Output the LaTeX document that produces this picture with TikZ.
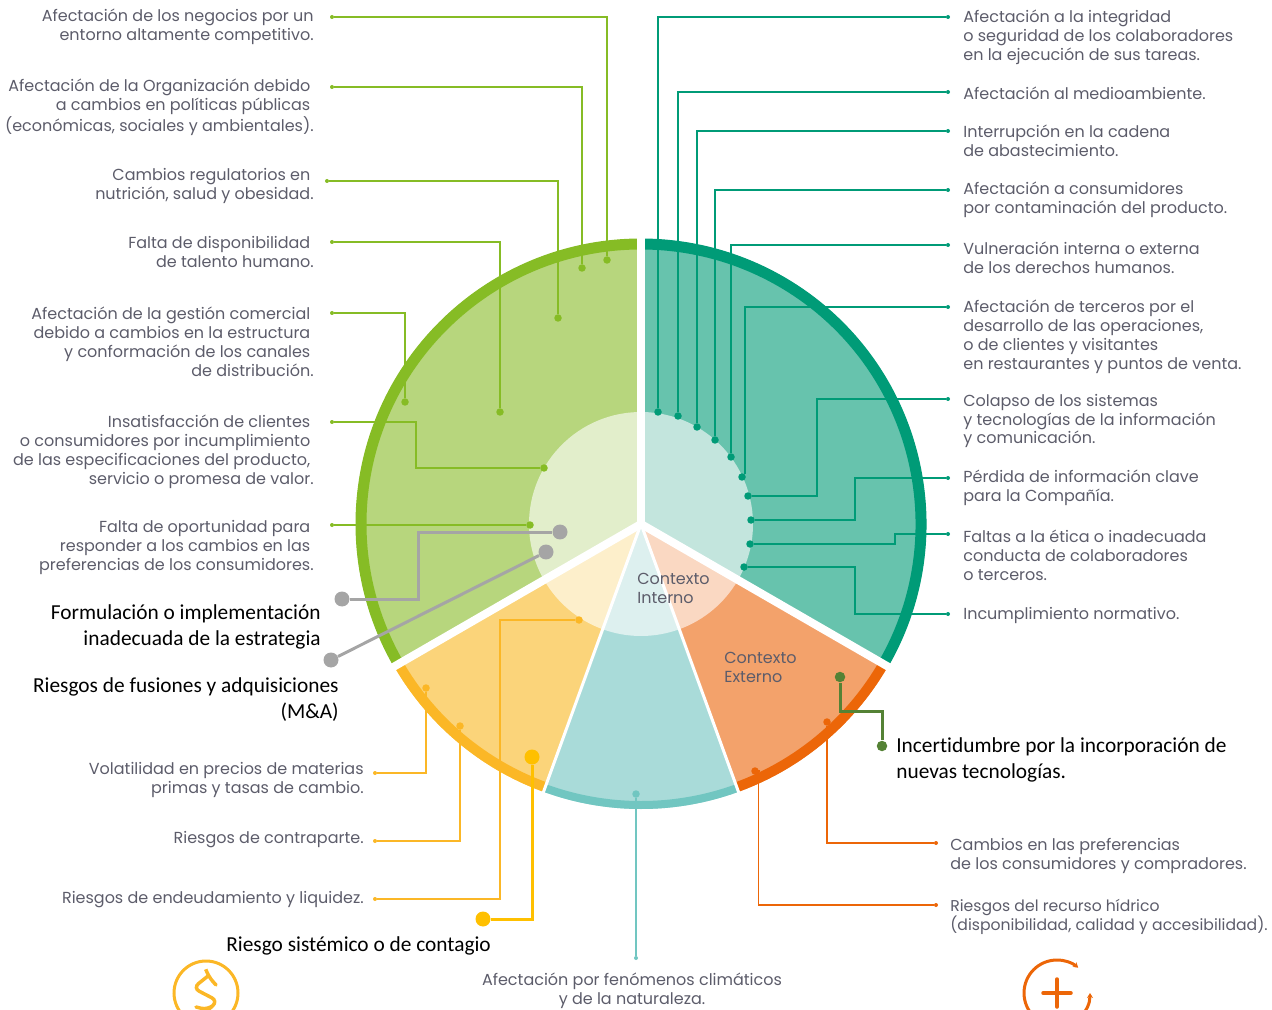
\documentclass[tikz,border=0pt]{standalone}
\usepackage{fontspec}
\usetikzlibrary{arrows.meta}
\newfontfamily\riskfont{Poppins}
\newfontfamily\calloutfont[Ligatures=CommonOff]{Carlito}
\newcommand{\hng}{\phantom{.}}
\definecolor{greenring}{HTML}{86BC25}
\definecolor{greenfill}{HTML}{B7D67D}
\definecolor{greenlight}{HTML}{E2EECB}
\definecolor{tealring}{HTML}{009B77}
\definecolor{tealfill}{HTML}{67C3AD}
\definecolor{teallight}{HTML}{C3E5DD}
\definecolor{yellowring}{HTML}{FBB726}
\definecolor{yellowfill}{HTML}{FBD47A}
\definecolor{yellowlight}{HTML}{FDEFCB}
\definecolor{aquaring}{HTML}{71C6C1}
\definecolor{aquafill}{HTML}{A9DBD9}
\definecolor{aqualight}{HTML}{DDF0EF}
\definecolor{orangering}{HTML}{EC6608}
\definecolor{orangefill}{HTML}{F3A26B}
\definecolor{orangelight}{HTML}{FAD8C2}
\definecolor{calloutgray}{HTML}{A5A5A5}
\definecolor{calloutgold}{HTML}{FFC000}
\definecolor{calloutgreen}{HTML}{548235}
\definecolor{textgray}{HTML}{5C5C6A}

\begin{document}
\begin{tikzpicture}[
    x=0.02cm, y=-0.02cm,
    risktxt/.style={font=\riskfont\fontsize{9.1}{10.8}\selectfont, text=textgray, inner sep=0pt, yshift=-0.03cm},
    txtleft/.style={risktxt, anchor=east, align=right},
    txtright/.style={risktxt, anchor=west, align=left},
    callout/.style={font=\calloutfont\fontsize{12.15}{14.8}\selectfont, text=black, inner sep=0pt, yshift=-0.03cm},
    tipdot/.style={circle, fill=#1, inner sep=0pt, minimum size=0.08cm},
    enddot/.style={circle, fill=#1, inner sep=0pt, minimum size=0.15cm},
    bigdot/.style={circle, fill=#1, inner sep=0pt, minimum size=0.3cm},
    leader/.style={draw=#1, line width=0.028cm},
    heavy/.style={draw=#1, line width=0.06cm},
]
\useasboundingbox (0,0) rectangle (1272,1010);
\clip (0,0) rectangle (1272,1010);

% === Sectors ===
\begin{scope}[shift={(641,524)}, y=0.02cm]
\foreach \a/\b/\base/\w/\r in {90/210/green/0.22cm/280, 210/250/yellow/0.2cm/280, 250/290/aqua/0.16cm/281, 290/330/orange/0.2cm/280, -30/90/teal/0.22cm/280} {
    \fill[\base fill] (0,0) -- (\a:285) arc (\a:\b:285) -- cycle;
    \fill[\base light] (0,0) -- (\a:112) arc (\a:\b:112) -- cycle;
    \draw[\base ring, line width=\w] (\a:\r) arc (\a:\b:\r);
}
% separators
\foreach \a in {90,210,330} \draw[white, line width=0.16cm] (0,0) -- (\a:295);
\foreach \a in {250,290} \draw[white, line width=0.06cm] (0,0) -- (\a:295);
\end{scope}

% === Green leaders ===
\foreach \name/\x/\y in {negA/332/17, polA/332/87, regA/327/181, talA/332/242, comA/332/313, insA/332/422, opoA/332/525}
    \node[tipdot=greenring] (\name) at (\x,\y) {};
\foreach \name/\x/\y in {negB/607/260, polB/582/268, regB/558/318, talB/500/412, comB/405/402, insB/544/468, opoB/530/525}
    \node[enddot=greenring] (\name) at (\x,\y) {};
\draw[leader=greenring] (negA) -| (negB);
\draw[leader=greenring] (polA) -| (polB);
\draw[leader=greenring] (regA) -| (regB);
\draw[leader=greenring] (talA) -| (talB);
\draw[leader=greenring] (comA) -| (comB);
\draw[leader=greenring] (insA) -- ++(84,0) |- (insB);
\draw[leader=greenring] (opoA) -- (opoB);

% === Teal leaders ===
\foreach \name/\x/\y in {intA/948/17, ambA/948/92, cadA/948/131, conA/948/190, derA/948/245, terA/948/307, sisA/948/399, infA/948/478, etiA/948/534, norA/948/614}
    \node[tipdot=tealring] (\name) at (\x,\y) {};
\foreach \name/\x/\y in {intB/658/412, ambB/678/416, cadB/697/427, conB/715/440, derB/731/457, terB/742/477, sisB/748/496, infB/751/520, etiB/750/544, norB/744/567}
    \node[enddot=tealring] (\name) at (\x,\y) {};
\draw[leader=tealring] (intB) |- (intA);
\draw[leader=tealring] (ambB) |- (ambA);
\draw[leader=tealring] (cadB) |- (cadA);
\draw[leader=tealring] (conB) |- (conA);
\draw[leader=tealring] (derB) |- (derA);
\draw[leader=tealring] (terB.north east) |- (terA);
\draw[leader=tealring] (sisB) -- ++(69,0) |- (sisA);
\draw[leader=tealring] (infB) -- ++(104,0) |- (infA);
\draw[leader=tealring] (etiB) -- ++(145,0) |- (etiA);
\draw[leader=tealring] (norB) -- ++(111,0) |- (norA);

% === Yellow leaders ===
\foreach \name/\x/\y in {preA/375/773, conpA/375/841, endA/375/899}
    \node[tipdot=yellowring] (\name) at (\x,\y) {};
\foreach \name/\x/\y in {preB/426/688, conpB/460/726, endB/579/620}
    \node[enddot=yellowring] (\name) at (\x,\y) {};
\draw[leader=yellowring] (preA) -| (preB);
\draw[leader=yellowring] (conpA) -| (conpB);
\draw[leader=yellowring] (endA) -- ++(125,0) |- (endB);

% === Aqua and orange leaders ===
\node[tipdot=aquaring] (cliA) at (636,958) {};
\node[enddot=aquaring] (cliB) at (636,794) {};
\draw[leader=aquaring] (cliB) -- (cliA);
\node[tipdot=orangering] (cbiA) at (936,843) {};
\node[enddot=orangering] (cbiB) at (827,722) {};
\draw[leader=orangering] (cbiB) |- (cbiA);
\node[tipdot=orangering] (hidA) at (936,905) {};
\node[enddot=orangering] (hidB) at (755,771) {};
\draw[leader=orangering] (hidB) -- ++(3.5,0) |- (hidA);

% === Added callouts ===
\node[bigdot=calloutgray] (estA) at (342,599) {};
\node[bigdot=calloutgray] (estB) at (560,532) {};
\draw[heavy=calloutgray] (estA) -- ++(76,0) |- (estB);
\node[bigdot=calloutgray] (fusA) at (331,660) {};
\node[bigdot=calloutgray] (fusB) at (546,552) {};
\draw[heavy=calloutgray] (fusA) -- (fusB);
\node[bigdot=calloutgold] (sisgA) at (483,919) {};
\node[bigdot=calloutgold] (sisgB) at (532,757) {};
\draw[heavy=calloutgold] (sisgA) -| (sisgB);
\node[enddot=calloutgreen, minimum size=0.21cm] (tecA) at (882,746) {};
\node[enddot=calloutgreen, minimum size=0.21cm] (tecB) at (840,677) {};
\draw[heavy=calloutgreen] (tecB) -- ++(0,34) -| (tecA);

% === Left labels ===
\node[txtleft] (negT) at (314,25.5) {Afectación de los negocios por un\\entorno altamente competitivo.};
\node[txtleft] (polT) at (314,105.5) {Afectación de la Organización debido\hng\\a cambios en políticas públicas\hng\\(económicas, sociales y ambientales).};
\node[txtleft] (regT) at (314,184.5) {Cambios regulatorios en\hng\\nutrición, salud y obesidad.};
\node[txtleft] (talT) at (314,250.5) {Falta de disponibilidad\hng\\de talento humano.};
\node[txtleft] (comT) at (314,340) {Afectación de la gestión comercial\hng\\debido a cambios en la estructura\hng\\y conformación de los canales\hng\\de distribución.};
\node[txtleft] (insT) at (314,450) {Insatisfacción de clientes\hng\\o consumidores por incumplimiento\hng\\de las especificaciones del producto,\hng\\servicio o promesa de valor.};
\node[txtleft] (opoT) at (314,546) {Falta de oportunidad para\hng\\responder a los cambios en las\hng\\preferencias de los consumidores.};
\node[txtleft] (preT) at (364,778.5) {Volatilidad en precios de materias\\primas y tasas de cambio.};
\node[txtleft] (conpT) at (364,838) {Riesgos de contraparte.};
\node[txtleft] (endT) at (364,898) {Riesgos de endeudamiento y liquidez.};

% === Right labels ===
\node[txtright] (intT) at (963,36) {Afectación a la integridad\\o seguridad de los colaboradores\\en la ejecución de sus tareas.};
\node[txtright] (ambT) at (963,92) {Afectación al medioambiente.};
\node[txtright] (cadT) at (963,139.5) {Interrupción en la cadena\\de abastecimiento.};
\node[txtright] (conT) at (963,198.5) {Afectación a consumidores\\por contaminación del producto.};
\node[txtright] (derT) at (963,256) {Vulneración interna o externa\\de los derechos humanos.};
\node[txtright] (terT) at (963,335.5) {Afectación de terceros por el\\desarrollo de las operaciones,\\o de clientes y visitantes\\en restaurantes y puntos de venta.};
\node[txtright] (sisT) at (963,419.5) {Colapso de los sistemas\\y tecnologías de la información\\y comunicación.};
\node[txtright] (infT) at (963,486.5) {Pérdida de información clave\\para la Compañía.};
\node[txtright] (etiT) at (963,553.5) {Faltas a la ética o inadecuada\\conducta de colaboradores\\o terceros.};
\node[txtright] (norT) at (963,614) {Incumplimiento normativo.};
\node[txtright] (cbiT) at (950,854.5) {Cambios en las preferencias\\de los consumidores y compradores.};
\node[txtright, font=\riskfont\fontsize{8.9}{10.8}\selectfont] (hidT) at (950,915.5) {Riesgos del recurso hídrico\\(disponibilidad, calidad y accesibilidad).};
\node[risktxt, align=center] (cliT) at (632,989) {Afectación por fenómenos climáticos\\y de la naturaleza.};

% === Center labels ===
\node[txtright] (intrT) at (637,587) {Contexto\\Interno};
\node[txtright] (extT) at (724,666) {Contexto\\Externo};

% === Added labels ===
\node[callout, anchor=east, align=right] (estT) at (321,625) {Formulación o implementación\\inadecuada de la estrategia};
\node[callout, anchor=east, align=right] (fusT) at (339,698) {Riesgos de fusiones y adquisiciones\\(M\&A)};
\node[callout, anchor=west] (sisgT) at (226,944) {Riesgo sistémico o de contagio};
\node[callout, anchor=west, align=left] (tecT) at (896,758) {Incertidumbre por la incorporación de\\nuevas tecnologías.};

% === Icons ===
\draw[yellowring, line width=0.06cm] (206,993) circle (32);
\draw[yellowring, line width=0.07cm, line cap=round, rounded corners=4pt]
    (206,970) -- (208,976) -- (216,985) (208,976) -- (193,988) -- (218,1001) -- (208,1010) -- (196,1007);
\draw[orangering, line width=0.06cm, line cap=round, {Stealth[length=0.1cm,width=0.12cm]}-{Stealth[length=0.1cm,width=0.12cm]}]
    (1090,993) arc (0:310:33);
\draw[orangering, line width=0.07cm, line cap=round] (1043,993) -- (1071,993) (1057,979) -- (1057,1007);

\end{tikzpicture}
\end{document}
